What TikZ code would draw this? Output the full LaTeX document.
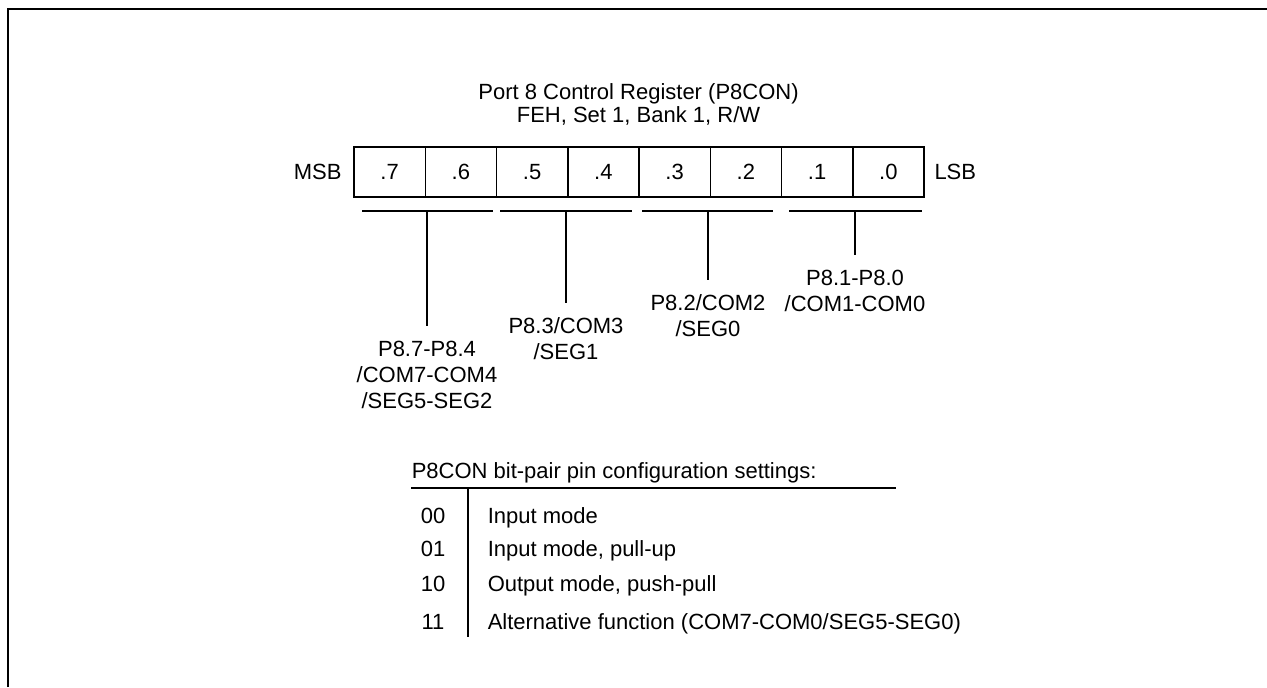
\documentclass[tikz,border=0pt]{standalone}
\usepackage{fontspec}
\setmainfont{Liberation Sans}
\usepackage{tikz}
\usetikzlibrary{positioning}

\begin{document}
\begin{tikzpicture}[x=0.5pt,y=-0.5pt,line width=0.75pt,
  every node/.style={font=\fontsize{11}{13}\selectfont},
  bitcell/.style={draw,minimum width=35.625pt,minimum height=25pt,inner sep=0pt},
  pinlabel/.style={align=center,anchor=north,inner sep=0pt},
  stem/.style={shorten >=7pt}]
\useasboundingbox (0,0) rectangle (1267,687);
\draw[line width=1.4pt] (8,687) -- (8,9) -- (1267,9);

\node[align=center,anchor=north,inner sep=0pt,font=\fontsize{11}{11.5}\selectfont] (title) at (638.5,83)
  {Port 8 Control Register (P8CON)\\FEH, Set 1, Bank 1, R/W};

\foreach \b [count=\i from 0] in {7,6,5,4,3,2,1,0}
  \node[bitcell] (b\b) at ({389.625+71.25*\i},172) {.\b};
\node[left=5.5pt of b7,inner sep=0pt] (msb) {MSB};
\node[right=4.5pt of b0,inner sep=0pt] (lsb) {LSB};

\draw (362,211) -- (493,211);
\draw (500,211) -- (632,211);
\draw (642,211) -- (773,211);
\draw (789,211) -- (922,211);
\coordinate (grp74) at (427,211);
\coordinate (grp3) at (566,211);
\coordinate (grp2) at (708,211);
\coordinate (grp10) at (855,211);

\node[pinlabel] (lbl74) at (427,340) {P8.7-P8.4\\/COM7-COM4\\/SEG5-SEG2};
\node[pinlabel] (lbl3) at (566,317) {P8.3/COM3\\/SEG1};
\node[pinlabel] (lbl2) at (708,294) {P8.2/COM2\\/SEG0};
\node[pinlabel] (lbl10) at (855,269) {P8.1-P8.0\\/COM1-COM0};

\draw[stem] (grp74) -- (lbl74.north);
\draw[stem] (grp3) -- (lbl3.north);
\draw[stem] (grp2) -- (lbl2.north);
\draw[stem] (grp10) -- (lbl10.north);

\node[anchor=base west,inner sep=0pt] (head) at (411,478) {P8CON bit-pair pin configuration settings:};
\draw (411,488) -- (896,488);
\draw (468,488) -- (468,637);
\foreach \c/\t/\y in {00/{Input mode}/515,01/{Input mode, pull-up}/548,10/{Output mode, push-pull}/583,11/{Alternative function (COM7-COM0/SEG5-SEG0)}/621}{
  \node[anchor=base,inner sep=0pt] (code\c) at (433,\y+8) {\c};
  \node[anchor=base west,inner sep=0pt] (desc\c) at (487,\y+8) {\t};
}
\end{tikzpicture}
\end{document}
